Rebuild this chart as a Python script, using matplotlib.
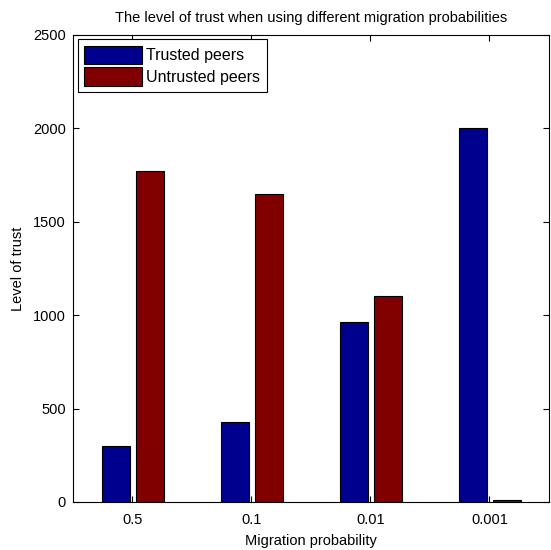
import matplotlib.pyplot as plt
import numpy as np

categories = ["0.5", "0.1", "0.01", "0.001"]
trusted = [300, 430, 963, 2000]
untrusted = [1770, 1648, 1100, 8]

plt.rcParams["font.family"] = ["Liberation Sans", "DejaVu Sans"]
plt.rcParams["font.size"] = 10.5

fig = plt.figure(figsize=(5.51, 5.5), dpi=100)
ax = fig.add_axes([0.1325, 0.0873, 0.8635, 0.8497])

x = np.arange(1, len(categories) + 1)
w = 0.235
ax.bar(x - 0.14, trusted, w, color="#00008F", edgecolor="black", linewidth=0.8, label="Trusted peers")
ax.bar(x + 0.15, untrusted, w, color="#800000", edgecolor="black", linewidth=0.8, label="Untrusted peers")

ax.set_xlim(0.5, 4.5)
ax.set_ylim(0, 2500)
ax.set_xticks(x)
ax.set_xticklabels(categories)
ax.set_yticks(range(0, 2501, 500))
ax.tick_params(direction="in", top=True, right=True, length=4, width=0.8)
ax.tick_params(axis="x", pad=8)
ax.tick_params(axis="y", pad=5)
for s in ax.spines.values():
    s.set_linewidth(0.8)

ax.set_xlabel("Migration probability", labelpad=5)
ax.set_ylabel("Level of trust", labelpad=6)
ax.set_title("The level of trust when using different migration probabilities", fontsize=10.5, pad=9)

leg = ax.legend(loc="upper left", fancybox=False, edgecolor="black", framealpha=1,
                handlelength=3.6, handleheight=1.4, borderaxespad=0.3, labelspacing=0.2,
                handletextpad=0.3, fontsize=11.5)
leg.get_frame().set_linewidth(0.8)

fig.savefig("out.png", dpi=100)
